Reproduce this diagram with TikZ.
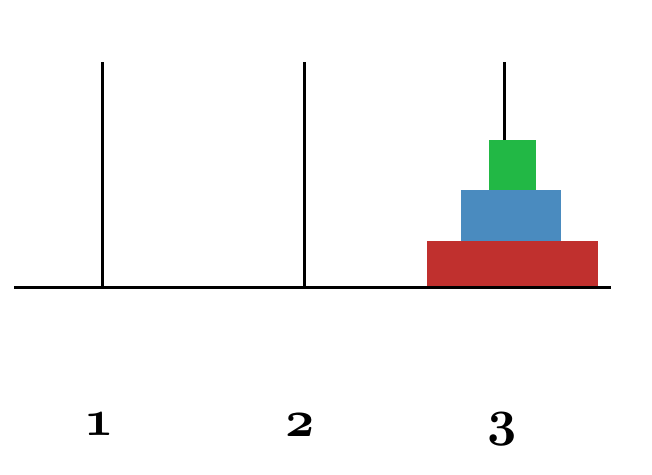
\RequirePackage{fix-cm}
\documentclass[tikz,border=0pt]{standalone}
\definecolor{diskred}{HTML}{C0302E}
\definecolor{diskblue}{HTML}{4A8BBF}
\definecolor{diskgreen}{HTML}{22B845}
\newcommand{\pegnum}[1]{{\fontsize{51}{60}\usefont{OML}{cmm}{b}{it}#1}}
\tikzset{
  rod/.style={line width=3pt, black},
  peglabel/.style={inner sep=0pt}
}
\begin{document}
\begin{tikzpicture}[x=1pt,y=-1pt]
\useasboundingbox (0,0) rectangle (652,474);
% pegs
\coordinate (p1t) at (102,62); \coordinate (p1b) at (102,287);
\coordinate (p2t) at (304,62); \coordinate (p2b) at (304,287);
\coordinate (p3t) at (504,62); \coordinate (p3b) at (504,287);
\coordinate (bl) at (14,287); \coordinate (br) at (611,287);
\draw[rod] (p1t) -- (p1b);
\draw[rod] (p2t) -- (p2b);
\draw[rod] (p3t) -- (p3b);
% disks
\fill[diskred] (427,241) rectangle (598,287);
\fill[diskblue] (461,190) rectangle (561,241);
\fill[diskgreen] (489,140) rectangle (536,190);
\draw[rod] (bl) -- (br);
% labels
\node[peglabel, anchor=base] (l1) at (99,435) {\pegnum{1}};
\node[peglabel, anchor=base] (l2) at (300,436) {\pegnum{2}};
\node[peglabel, anchor=base] (l3) at (502,435) {\pegnum{3}};
\end{tikzpicture}
\end{document}
